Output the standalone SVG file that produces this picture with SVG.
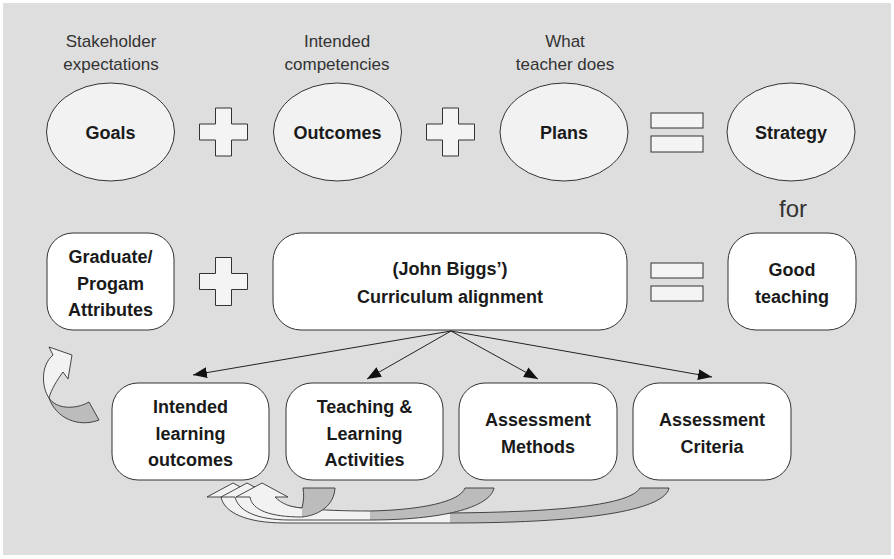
<svg xmlns="http://www.w3.org/2000/svg" width="894" height="559" viewBox="0 0 894 559">
<defs>
<style>
.bg{fill:#dedede}
.ell{fill:#f2f2f2;stroke:#333;stroke-width:1}
.box{fill:#fff;stroke:#333;stroke-width:1}
.sym{fill:#f4f4f4;stroke:#333;stroke-width:1}
.b{font-family:"Liberation Sans",Arial,sans-serif;font-weight:bold;font-size:18px;fill:#1a1a1a;text-anchor:middle}
.l{font-family:"Liberation Sans",Arial,sans-serif;font-size:17px;fill:#333;text-anchor:middle}
.conn{stroke:#222;stroke-width:1;fill:none;marker-end:url(#ah)}
.lt{fill:#f2f2f2;stroke:none}
.dk{fill:#bcbcbc;stroke:none}
.ol{fill:none;stroke:#333;stroke-width:0.9;stroke-linejoin:round}
</style>
<marker id="ah" markerWidth="15" markerHeight="11" refX="14" refY="5.5" orient="auto" markerUnits="userSpaceOnUse">
<path d="M0,0 L14,5.5 L0,11 z" fill="#111"/>
</marker>
<path id="plus" d="M-8,-24 L8,-24 L8,-8 L24,-8 L24,8 L8,8 L8,24 L-8,24 L-8,8 L-24,8 L-24,-8 L-8,-8 Z"/>
</defs>
<rect class="bg" x="3" y="3" width="888" height="552"/>

<g id="labels">
<text class="l" x="111" y="47">Stakeholder</text>
<text class="l" x="111" y="70">expectations</text>
<text class="l" x="337" y="47">Intended</text>
<text class="l" x="337" y="70">competencies</text>
<text class="l" x="565" y="47">What</text>
<text class="l" x="565" y="70">teacher does</text>
<text class="l" x="793" y="217" style="font-size:24px">for</text>
</g>

<g id="goals"><ellipse class="ell" cx="110.5" cy="132" rx="64" ry="49"/><text class="b" x="110.5" y="139">Goals</text></g>
<g id="plus1"><use href="#plus" class="sym" x="223.5" y="132"/></g>
<g id="outcomes"><ellipse class="ell" cx="337.5" cy="132" rx="64" ry="49"/><text class="b" x="337.5" y="139">Outcomes</text></g>
<g id="plus2"><use href="#plus" class="sym" x="450.5" y="132"/></g>
<g id="plans"><ellipse class="ell" cx="564" cy="132" rx="64" ry="49"/><text class="b" x="564" y="139">Plans</text></g>
<g id="equals1"><rect class="sym" x="651" y="113" width="52" height="15"/><rect class="sym" x="651" y="136" width="52" height="16"/></g>
<g id="strategy"><ellipse class="ell" cx="791" cy="132" rx="64" ry="49"/><text class="b" x="791" y="139">Strategy</text></g>

<g id="graduate"><rect class="box" x="47" y="233" width="127" height="97" rx="26"/>
<text class="b" x="110.5" y="263">Graduate/</text><text class="b" x="110.5" y="290">Progam</text><text class="b" x="110.5" y="316">Attributes</text></g>
<g id="plus3"><use href="#plus" class="sym" x="223.5" y="281.5"/></g>
<g id="curriculum"><rect class="box" x="273" y="233" width="354" height="97" rx="28"/>
<text class="b" x="450" y="275">(John Biggs’)</text><text class="b" x="450" y="303">Curriculum alignment</text></g>
<g id="equals2"><rect class="sym" x="651" y="263" width="52" height="15"/><rect class="sym" x="651" y="286" width="52" height="15"/></g>
<g id="good"><rect class="box" x="728" y="233" width="128" height="97" rx="28"/>
<text class="b" x="792" y="276">Good</text><text class="b" x="792" y="303">teaching</text></g>

<g id="ilo"><rect class="box" x="112" y="383" width="157" height="97" rx="26"/>
<text class="b" x="190.5" y="413">Intended</text><text class="b" x="190.5" y="440">learning</text><text class="b" x="190.5" y="466">outcomes</text></g>
<g id="tla"><rect class="box" x="286" y="383" width="157" height="97" rx="26"/>
<text class="b" x="364.5" y="413">Teaching &amp;</text><text class="b" x="364.5" y="440">Learning</text><text class="b" x="364.5" y="466">Activities</text></g>
<g id="am"><rect class="box" x="459" y="383" width="158" height="97" rx="26"/>
<text class="b" x="538" y="426">Assessment</text><text class="b" x="538" y="453">Methods</text></g>
<g id="ac"><rect class="box" x="633" y="383" width="158" height="97" rx="26"/>
<text class="b" x="712" y="426">Assessment</text><text class="b" x="712" y="453">Criteria</text></g>

<g id="connectors">
<line class="conn" x1="451" y1="331" x2="193" y2="375"/>
<line class="conn" x1="451" y1="331" x2="367" y2="379"/>
<line class="conn" x1="451" y1="331" x2="538" y2="379"/>
<line class="conn" x1="451" y1="331" x2="712" y2="377"/>
</g>

<g id="curved-arrows">
<g id="arrow-up-left">
<path class="lt" d="M49,347 L72,355 L68,379 L63,372 C57,380 51,390 49,398 C42,388 40,366 53,355 Z"/>
<path class="dk" d="M49,398 C56,409 75,410 89,402 L99,420 C78,428 56,418 49,398 Z"/>
<path class="ol" d="M49,347 L72,355 L68,379 L63,372 C57,380 51,390 49,398 C56,409 75,410 89,402 L99,420 C78,428 56,418 49,398 C42,388 40,366 53,355 Z"/>
</g>
<g id="arrow-criteria">
<path class="lt" d="M233,483 L259,497 L246,497 C262,510 330,513 450,513 L450,523 L285,523 C245,523 224,512 221,497 L207,497 Z"/>
<path class="dk" d="M450,513 C560,512 630,505 640,488 L669,488 C665,508 600,523 450,523 Z"/>
<path class="ol" d="M233,483 L259,497 L246,497 C262,510 330,513 450,513 C560,512 630,505 640,488 L669,488 C665,508 600,523 450,523 L285,523 C245,523 224,512 221,497 L207,497 Z"/>
</g>
<g id="arrow-methods">
<path class="lt" d="M247,483 L273,497 L260,497 C275,508 320,511 370,511 L370,520 L290,520 C255,520 238,510 235,497 L221,497 Z"/>
<path class="dk" d="M370,511 C420,510 460,502 465,488 L494,488 C490,508 440,520 370,520 Z"/>
<path class="ol" d="M247,483 L273,497 L260,497 C275,508 320,511 370,511 C420,510 460,502 465,488 L494,488 C490,508 440,520 370,520 L290,520 C255,520 238,510 235,497 L221,497 Z"/>
</g>
<g id="arrow-teaching">
<path class="lt" d="M262,483 L288,497 L275,497 C282,504 290,507 302,508 L302,517 C270,517 252,510 250,497 L236,497 Z"/>
<path class="dk" d="M302,508 C304,500 304,494 303,488 L335,488 C334,505 320,515 302,517 Z"/>
<path class="ol" d="M262,483 L288,497 L275,497 C282,504 290,507 302,508 C304,500 304,494 303,488 L335,488 C334,505 320,515 302,517 C270,517 252,510 250,497 L236,497 Z"/>
</g>
</g>
</svg>
